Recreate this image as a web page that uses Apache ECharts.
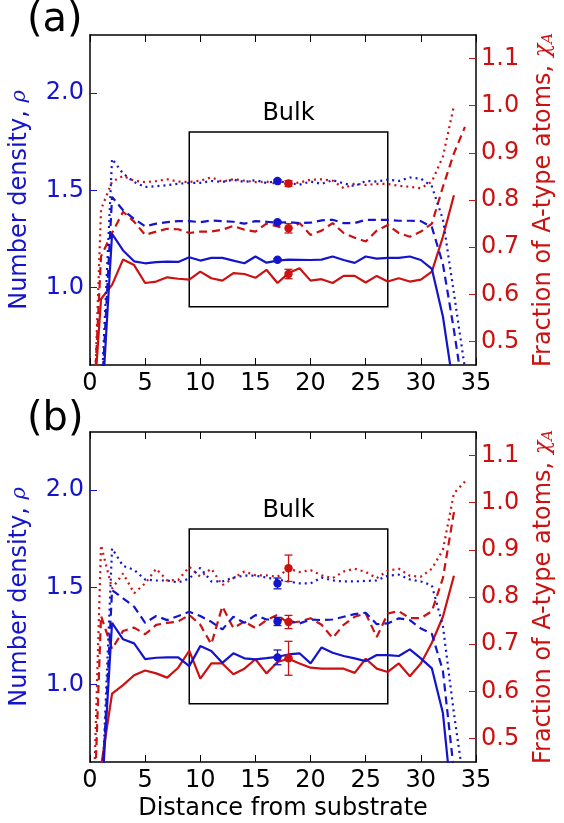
<!DOCTYPE html>
<html>
<head>
<meta charset="utf-8">
<script src="https://cdn.jsdelivr.net/npm/echarts@6/dist/echarts.min.js"></script>
<style>
  html, body { margin: 0; padding: 0; background: #fff; }
  #chart { width: 564px; height: 823px; }
</style>
</head>
<body>
<div id="chart"></div>
<script>
// distance from substrate (layer index)
var xs = [0, 1, 2, 3, 4, 5, 6, 7, 8, 9, 10, 11, 12, 13, 14, 15, 16, 17, 18, 19, 20,
          21, 22, 23, 24, 25, 26, 27, 28, 29, 30, 31, 32, 33, 34];

// panel (a)
var aBlueSolid  = [null, 0.31, 1.276, 1.19, 1.134, 1.124, 1.13, 1.133, 1.131, 1.155, 1.138, 1.152, 1.152, 1.138, 1.124, 1.159, 1.127, 1.138, 1.143, 1.142, 1.141, 1.143, 1.159, 1.141, 1.126, 1.159, 1.148, 1.152, 1.152, 1.159, 1.141, 1.095, 0.85, 0.47, null];
var aBlueDashed = [null, 0.38, 1.466, 1.397, 1.353, 1.314, 1.328, 1.336, 1.341, 1.341, 1.336, 1.345, 1.341, 1.338, 1.328, 1.341, 1.338, 1.333, 1.336, 1.331, 1.333, 1.345, 1.348, 1.331, 1.331, 1.348, 1.348, 1.348, 1.343, 1.343, 1.341, 1.31, 1.12, 0.78, 0.4];
var aBlueDotted = [null, 0.41, 1.662, 1.586, 1.543, 1.517, 1.521, 1.526, 1.534, 1.538, 1.538, 1.548, 1.543, 1.555, 1.543, 1.552, 1.538, 1.548, 1.538, 1.529, 1.545, 1.533, 1.552, 1.536, 1.521, 1.548, 1.545, 1.555, 1.548, 1.566, 1.56, 1.52, 1.35, 0.97, 0.58];
var aRedSolid   = [0.25, 0.59, 0.62, 0.674, 0.662, 0.624, 0.627, 0.636, 0.633, 0.631, 0.648, 0.634, 0.629, 0.645, 0.643, 0.635, 0.652, 0.624, 0.645, 0.655, 0.629, 0.632, 0.624, 0.639, 0.639, 0.625, 0.639, 0.627, 0.634, 0.627, 0.631, 0.648, 0.722, 0.81, null];
var aRedDashed  = [0.2, 0.68, 0.73, 0.775, 0.754, 0.726, 0.733, 0.739, 0.738, 0.73, 0.733, 0.733, 0.737, 0.745, 0.737, 0.733, 0.75, 0.744, 0.737, 0.751, 0.726, 0.735, 0.751, 0.73, 0.72, 0.712, 0.735, 0.747, 0.73, 0.722, 0.733, 0.75, 0.828, 0.899, 0.955];
var aRedDotted  = [0.1, 0.78, 0.839, 0.851, 0.841, 0.838, 0.84, 0.844, 0.839, 0.838, 0.841, 0.848, 0.839, 0.844, 0.841, 0.838, 0.839, 0.834, 0.834, 0.837, 0.843, 0.844, 0.841, 0.825, 0.835, 0.832, 0.834, 0.834, 0.83, 0.828, 0.825, 0.839, 0.892, 1.0, null];

// panel (b)
var bBlueSolid  = [null, 0.36, 1.317, 1.232, 1.211, 1.13, 1.137, 1.139, 1.139, 1.094, 1.197, 1.172, 1.111, 1.16, 1.134, 1.129, 1.135, 1.142, 1.154, 1.16, 1.108, 1.19, 1.163, 1.146, 1.134, 1.12, 1.151, 1.151, 1.146, 1.18, 1.134, 1.082, 0.852, 0.29, null];
var bBlueDashed = [null, 0.35, 1.485, 1.443, 1.40, 1.317, 1.352, 1.331, 1.352, 1.374, 1.352, 1.322, 1.283, 1.348, 1.317, 1.357, 1.334, 1.334, 1.328, 1.314, 1.334, 1.331, 1.334, 1.348, 1.362, 1.369, 1.31, 1.314, 1.34, 1.331, 1.288, 1.26, 1.07, 0.55, null];
var bBlueDotted = [null, 0.33, 1.70, 1.61, 1.59, 1.54, 1.535, 1.535, 1.525, 1.545, 1.60, 1.53, 1.53, 1.55, 1.56, 1.56, 1.55, 1.54, 1.53, 1.52, 1.52, 1.55, 1.535, 1.53, 1.53, 1.533, 1.535, 1.56, 1.565, 1.54, 1.53, 1.51, 1.30, 0.85, 0.45];
var bRedSolid   = [null, 0.44, 0.595, 0.613, 0.634, 0.644, 0.638, 0.629, 0.65, 0.686, 0.627, 0.659, 0.659, 0.636, 0.648, 0.668, 0.638, 0.662, 0.669, 0.659, 0.65, 0.648, 0.648, 0.648, 0.639, 0.669, 0.648, 0.641, 0.659, 0.632, 0.659, 0.703, 0.758, 0.845, null];
var bRedDashed  = [0.1, 0.76, 0.69, 0.728, 0.735, 0.721, 0.741, 0.745, 0.748, 0.762, 0.741, 0.70, 0.78, 0.734, 0.748, 0.734, 0.751, 0.762, 0.744, 0.748, 0.755, 0.741, 0.713, 0.741, 0.758, 0.765, 0.715, 0.765, 0.77, 0.755, 0.755, 0.77, 0.84, 0.98, null];
var bRedDotted  = [0.1, 0.91, 0.818, 0.85, 0.808, 0.829, 0.86, 0.835, 0.836, 0.864, 0.843, 0.86, 0.825, 0.84, 0.854, 0.846, 0.846, 0.843, 0.86, 0.853, 0.857, 0.846, 0.84, 0.854, 0.86, 0.853, 0.84, 0.856, 0.86, 0.845, 0.843, 0.86, 0.90, 1.02, 1.045];

// bulk averages (dotted, dashed, solid) with error
var bulkBlueX = 17, bulkRedX = 18;
var aBlueBulk = [1.548, 1.335, 1.142], aBlueErr = [0.006, 0.006, 0.006];
var aRedBulk  = [0.835, 0.740, 0.643], aRedErr  = [0.006, 0.01, 0.01];
var bBlueBulk = [1.52, 1.324, 1.139],  bBlueErr = [0.028, 0.021, 0.038];
var bRedBulk  = [0.861, 0.747, 0.67],  bRedErr  = [0.028, 0.014, 0.036];

// bulk region [x0, x1, rho0, rho1]
var bulkBox = [9, 27, 0.9, 1.8];

var rhoTicks = [1.0, 1.5, 2.0];
var chiTicks = [0.5, 0.6, 0.7, 0.8, 0.9, 1.0, 1.1];

var BLUE = '#1414cc';
var RED = '#cc1111';
var FONT = 'DejaVu Sans';
var FS = 24;
var DASH = [8, 5];
var DOT = [2, 4];

function pairs(vals) {
    return xs.map(function (x, i) { return [x, vals[i]]; })
             .filter(function (p) { return p[1] != null; });
}

function lineSeries(vals, color, type, xi, yi) {
    return {
        type: 'line',
        xAxisIndex: xi,
        yAxisIndex: yi,
        data: pairs(vals),
        symbol: 'none',
        clip: true,
        animation: false,
        lineStyle: { color: color, width: 2.2, type: type }
    };
}

function errData(x, vals, errs) {
    return vals.map(function (v, i) { return [x, v, errs[i]]; });
}

function errSeries(x, vals, errs, color, xi, yi) {
    return {
        type: 'custom',
        xAxisIndex: xi,
        yAxisIndex: yi,
        data: errData(x, vals, errs),
        animation: false,
        z: 5,
        renderItem: function (params, api) {
            var p = api.coord([api.value(0), api.value(1)]);
            var hi = api.coord([api.value(0), api.value(1) + api.value(2)]);
            var lo = api.coord([api.value(0), api.value(1) - api.value(2)]);
            var st = { stroke: color, lineWidth: 1.3 };
            return {
                type: 'group',
                children: [
                    { type: 'line', shape: { x1: hi[0], y1: hi[1], x2: lo[0], y2: lo[1] }, style: st },
                    { type: 'line', shape: { x1: hi[0] - 4, y1: hi[1], x2: hi[0] + 4, y2: hi[1] }, style: st },
                    { type: 'line', shape: { x1: lo[0] - 4, y1: lo[1], x2: lo[0] + 4, y2: lo[1] }, style: st },
                    { type: 'circle', shape: { cx: p[0], cy: p[1], r: 4.2 }, style: { fill: color } }
                ]
            };
        }
    };
}

function bulkArea() {
    return {
        silent: true,
        itemStyle: { color: 'rgba(0,0,0,0)', borderColor: '#000', borderWidth: 1.5 },
        label: { show: true, position: 'top', formatter: 'Bulk', color: '#000', fontSize: FS, fontFamily: FONT, distance: 6 },
        data: [[{ coord: [bulkBox[0], bulkBox[2]] }, { coord: [bulkBox[1], bulkBox[3]] }]]
    };
}

function xAxisBottom(gi, withName) {
    var ax = {
        type: 'value', gridIndex: gi, min: 0, max: 35, interval: 5, position: 'bottom',
        axisLine: { show: true, onZero: false, lineStyle: { color: '#000', width: 1.5 } },
        axisTick: { inside: true, length: 7, lineStyle: { color: '#000' } },
        axisLabel: { color: '#000', fontSize: FS, fontFamily: FONT, margin: 7 },
        splitLine: { show: false }
    };
    if (withName) {
        ax.name = 'Distance from substrate';
        ax.nameLocation = 'middle';
        ax.nameGap = 35;
        ax.nameTextStyle = { color: '#000', fontSize: FS, fontFamily: FONT };
    }
    return ax;
}

function xAxisTop(gi) {
    return {
        type: 'value', gridIndex: gi, min: 0, max: 35, interval: 5, position: 'top',
        axisLine: { show: true, onZero: false, lineStyle: { color: '#000', width: 1.5 } },
        axisTick: { inside: true, length: 7, lineStyle: { color: '#000' } },
        axisLabel: { show: false },
        splitLine: { show: false }
    };
}

function yAxisRho(gi) {
    return {
        type: 'value', gridIndex: gi, min: 0.6, max: 2.3, position: 'left',
        name: 'Number density, {i|ρ}',
        nameLocation: 'middle', nameRotate: 90, nameGap: 58,
        nameTextStyle: {
            color: BLUE, fontSize: FS, fontFamily: FONT,
            rich: { i: { color: BLUE, fontSize: 21, fontStyle: 'italic', fontFamily: 'DejaVu Serif' } }
        },
        axisLine: { show: true, onZero: false, lineStyle: { color: '#000', width: 1.5 } },
        axisTick: { inside: true, length: 7, customValues: rhoTicks, lineStyle: { color: BLUE } },
        axisLabel: {
            color: BLUE, fontSize: FS, fontFamily: FONT, margin: 6, customValues: rhoTicks,
            formatter: function (v) { return v.toFixed(1); }
        },
        splitLine: { show: false }
    };
}

function yAxisChi(gi) {
    return {
        type: 'value', gridIndex: gi, min: 0.45, max: 1.15, position: 'right',
        name: 'Fraction of A-type atoms, {i|χ}{s|A}',
        nameLocation: 'middle', nameRotate: 90, nameGap: 55,
        nameTextStyle: {
            color: RED, fontSize: FS, fontFamily: FONT,
            rich: {
                i: { color: RED, fontSize: 22, fontStyle: 'italic', fontFamily: 'DejaVu Serif' },
                s: { color: RED, fontSize: 15, fontStyle: 'italic', fontFamily: 'DejaVu Serif', padding: [10, 0, 0, 0] }
            }
        },
        axisLine: { show: true, onZero: false, lineStyle: { color: '#000', width: 1.5 } },
        axisTick: { inside: true, length: 7, customValues: chiTicks, lineStyle: { color: RED } },
        axisLabel: {
            color: RED, fontSize: FS, fontFamily: FONT, margin: 5, customValues: chiTicks,
            formatter: function (v) { return v.toFixed(1); }
        },
        splitLine: { show: false }
    };
}

function panelSeries(d, xi, yl, yr) {
    var solid = lineSeries(d.blueSolid, BLUE, 'solid', xi, yl);
    solid.markArea = bulkArea();
    return [
        lineSeries(d.redDotted, RED, DOT, xi, yr),
        lineSeries(d.redDashed, RED, DASH, xi, yr),
        lineSeries(d.redSolid, RED, 'solid', xi, yr),
        lineSeries(d.blueDotted, BLUE, DOT, xi, yl),
        lineSeries(d.blueDashed, BLUE, DASH, xi, yl),
        solid,
        errSeries(bulkBlueX, d.blueBulk, d.blueErr, BLUE, xi, yl),
        errSeries(bulkRedX, d.redBulk, d.redErr, RED, xi, yr)
    ];
}

var chart = echarts.init(document.getElementById('chart'), null, { renderer: 'canvas' });

var series = [].concat(
    panelSeries({
        blueSolid: aBlueSolid, blueDashed: aBlueDashed, blueDotted: aBlueDotted,
        redSolid: aRedSolid, redDashed: aRedDashed, redDotted: aRedDotted,
        blueBulk: aBlueBulk, blueErr: aBlueErr, redBulk: aRedBulk, redErr: aRedErr
    }, 0, 0, 1),
    panelSeries({
        blueSolid: bBlueSolid, blueDashed: bBlueDashed, blueDotted: bBlueDotted,
        redSolid: bRedSolid, redDashed: bRedDashed, redDotted: bRedDotted,
        blueBulk: bBlueBulk, blueErr: bBlueErr, redBulk: bRedBulk, redErr: bRedErr
    }, 2, 2, 3)
);

chart.setOption({
    backgroundColor: '#fff',
    animation: false,
    title: [
        { text: '(a)', left: 22, top: -4, textStyle: { fontSize: 40, fontWeight: 'normal', fontFamily: FONT, color: '#000' } },
        { text: '(b)', left: 22, top: 395, textStyle: { fontSize: 40, fontWeight: 'normal', fontFamily: FONT, color: '#000' } }
    ],
    grid: [
        { left: 88, top: 35, width: 397, height: 330 },
        { left: 88, top: 432, width: 397, height: 330 }
    ],
    xAxis: [xAxisBottom(0, false), xAxisTop(0), xAxisBottom(1, true), xAxisTop(1)],
    yAxis: [yAxisRho(0), yAxisChi(0), yAxisRho(1), yAxisChi(1)],
    series: series
});
</script>
</body>
</html>
